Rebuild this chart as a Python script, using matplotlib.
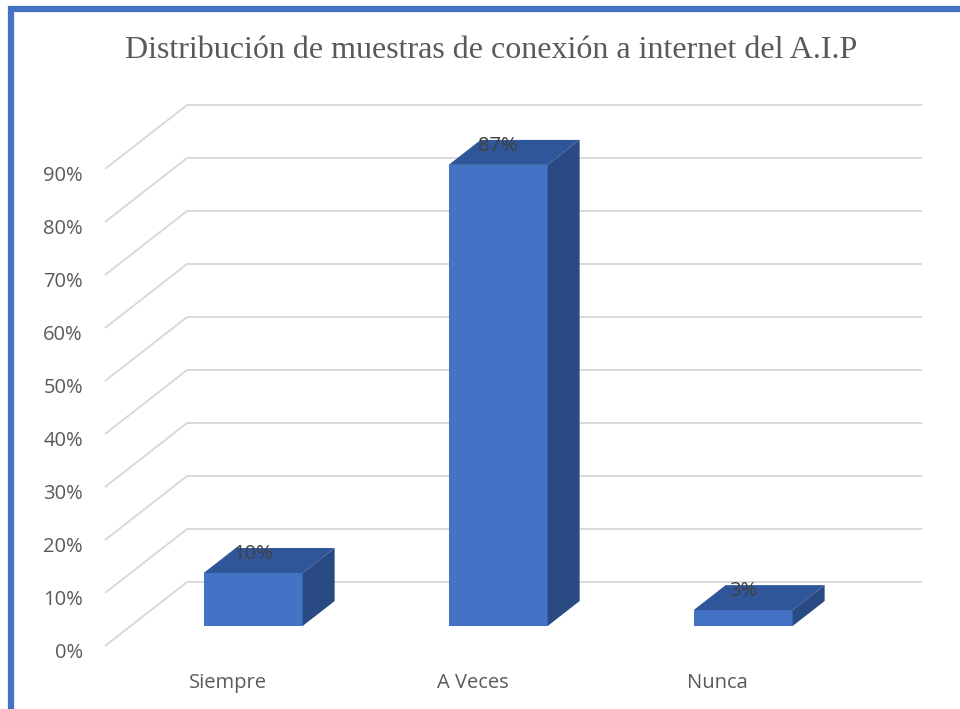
import matplotlib.pyplot as plt
from matplotlib.patches import Polygon, Rectangle

# ---   DATA   --- #
categories = ['Siempre', 'A Veces', 'Nunca']
values = [10, 87, 3]
data_labels = ['10%', '87%', '3%']
yticks = [0, 10, 20, 30, 40, 50, 60, 70, 80, 90]
title = 'Distribución de muestras de conexión a internet del A.I.P'

# ---   STYLE / GEOMETRY   --- #
FRONT = '#4472C4'
TOP = '#30569A'
SIDE = '#294A82'
GRID = '#D9D9D9'
TEXT = '#595959'
LABEL = '#404040'
DX = 0.335       # depth offset in category units
DY = 12.08       # depth offset in percent units
BAR_W = 0.404
D0 = 0.3125      # depth where bar front face sits
DD = 0.39        # bar depth fraction

fig = plt.figure(figsize=(9.6, 7.09), dpi=100)
ax = fig.add_axes([0, 0, 1, 1])
# data limits chosen so that x=0 -> 227.5px, 1 cat = 245px, 0% -> 646px, 10% = 53px
ax.set_xlim(-227.5 / 245, (960 - 227.5) / 245)
ax.set_ylim((646 - 709) / 5.3, 646 / 5.3)
ax.axis('off')

# gridlines (front diagonal + back horizontal)
for t in yticks:
    ax.plot([-0.5, -0.5 + DX, 2.5 + DX], [t, t + DY, t + DY],
            color=GRID, lw=1.4, zorder=1, solid_capstyle='butt')
    ax.text(-0.59, t - 1.4, f'{t}%', ha='right', va='center',
            fontsize=14.5, color=TEXT, family='Open Sans')

# bars
for i, (v, lab) in enumerate(zip(values, data_labels)):
    x0 = i - BAR_W / 2 + D0 * DX
    yb = D0 * DY
    ddx, ddy = DD * DX, DD * DY
    ax.add_patch(Rectangle((x0, yb), BAR_W, v, facecolor=FRONT,
                           edgecolor='none', zorder=3))
    ax.add_patch(Polygon([(x0, yb + v), (x0 + BAR_W, yb + v),
                          (x0 + BAR_W + ddx, yb + v + ddy), (x0 + ddx, yb + v + ddy)],
                         facecolor=TOP, edgecolor='none', zorder=3))
    ax.add_patch(Polygon([(x0 + BAR_W, yb), (x0 + BAR_W, yb + v),
                          (x0 + BAR_W + ddx, yb + v + ddy), (x0 + BAR_W + ddx, yb + ddy)],
                         facecolor=SIDE, edgecolor='none', zorder=3))
    ax.text(x0 + BAR_W / 2, v + 7.4, lab, ha='center', va='center',
            fontsize=14.5, color=LABEL, family='Open Sans', zorder=4)
    ax.text(i, -7.0, categories[i], ha='center', va='center',
            fontsize=14.5, color=TEXT, family='Open Sans')

# title
fig.text(491 / 960, 1 - 58 / 709, title, ha='center', va='baseline',
         fontsize=23, color=TEXT, family='Liberation Serif')

# blue frame (top and left edges)
fig.add_artist(plt.Line2D([8 / 960, 1], [1 - 8.5 / 709, 1 - 8.5 / 709],
                          color='#4472C4', lw=4.5, solid_capstyle='butt'))
fig.add_artist(plt.Line2D([10.5 / 960, 10.5 / 960], [0, 1 - 6 / 709],
                          color='#4472C4', lw=4.5, solid_capstyle='butt'))

plt.savefig('out.png', dpi=100)
